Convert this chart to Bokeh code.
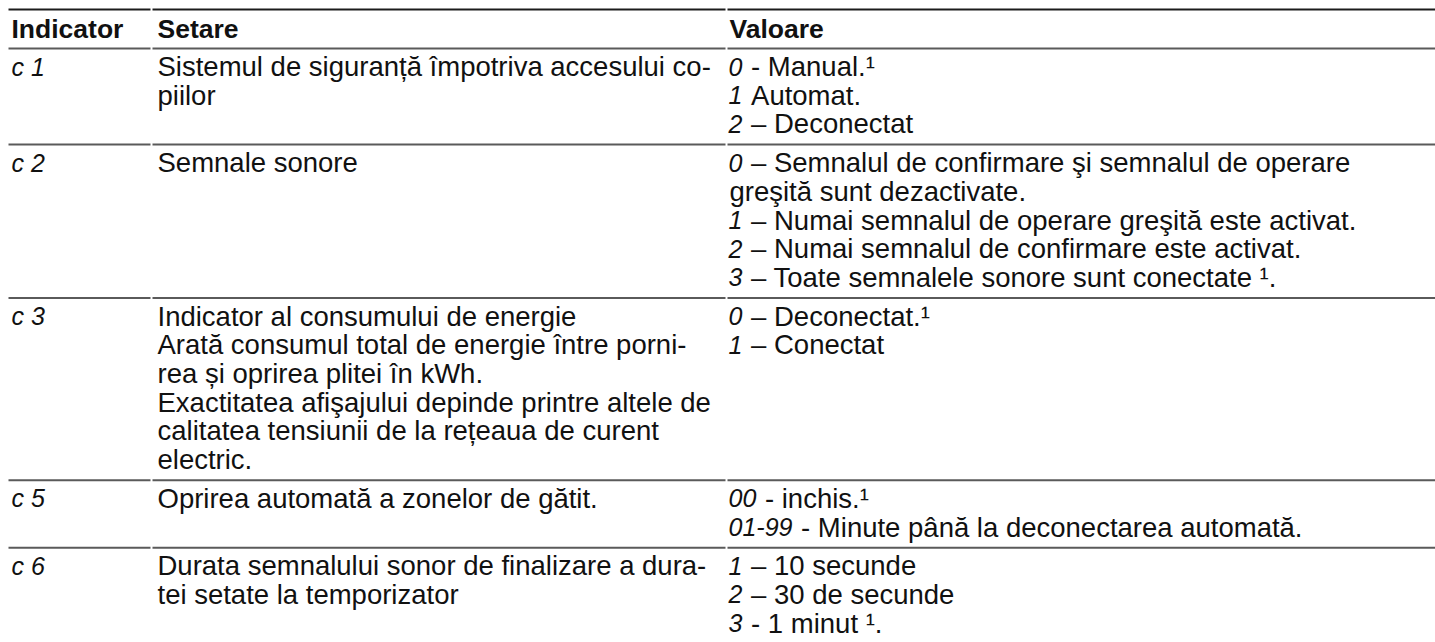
from bokeh.plotting import figure
from bokeh.models import ColumnDataSource, Range1d
from bokeh.core.properties import value
from bokeh.embed import file_html
from bokeh.resources import INLINE

# ---------------- data ----------------
headers = ["Indicator", "Setare", "Valoare"]
indicators = ["c 1", "c 2", "c 3", "c 5", "c 6"]
settings = [
    ["Sistemul de siguranță împotriva accesului co-", "piilor"],
    ["Semnale sonore"],
    ["Indicator al consumului de energie",
     "Arată consumul total de energie între porni-",
     "rea și oprirea plitei în kWh.",
     "Exactitatea afişajului depinde printre altele de",
     "calitatea tensiunii de la rețeaua de curent",
     "electric."],
    ["Oprirea automată a zonelor de gătit."],
    ["Durata semnalului sonor de finalizare a dura-",
     "tei setate la temporizator"],
]
value_codes = [
    ["0", "1", "2"],
    ["0", "", "1", "2", "3"],
    ["0", "1"],
    ["00", "01-99"],
    ["1", "2", "3"],
]
value_texts = [
    ["- Manual.¹", "Automat.", "– Deconectat"],
    ["– Semnalul de confirmare şi semnalul de operare",
     "greşită sunt dezactivate.",
     "– Numai semnalul de operare greşită este activat.",
     "– Numai semnalul de confirmare este activat.",
     "– Toate semnalele sonore sunt conectate ¹."],
    ["– Deconectat.¹", "– Conectat"],
    ["- inchis.¹", "- Minute până la deconectarea automată."],
    ["– 10 secunde", "– 30 de secunde", "- 1 minut ¹."],
]

# ---------------- layout ----------------
W, H = 1435, 642
FONT = "Liberation Sans"
FS = 27.5          # body font px
HFS = 26.5         # header font px
CFS = 25           # code font px
L = 28.7           # line spacing
P = 10             # row padding
B = 18             # baseline offset from row top (as rendered by bokeh)
TOP = 9
COLX = [11, 157, 729]
GAPS = [151, 726]

p = figure(width=W, height=H, x_range=Range1d(0, W), y_range=Range1d(H, 0),
           output_backend="svg", toolbar_location=None, min_border=0)
p.axis.visible = False
p.grid.visible = False
p.outline_line_color = None
p.background_fill_color = "white"
p.border_fill_color = "white"

# row boundaries
row_tops = []
header_bottom = TOP + 29 + 10
y = header_bottom
for i in range(len(indicators)):
    n = max(len(settings[i]), len(value_codes[i]))
    row_tops.append(y)
    y = y + n * L + P
row_bottoms = [row_tops[i + 1] for i in range(len(row_tops) - 1)]

# horizontal rules (split at column gaps)
def rule_segments(yy):
    xs0 = [8, GAPS[0] + 1, GAPS[1] + 1]
    xs1 = [GAPS[0] - 1, GAPS[1] - 1, W]
    return xs0, xs1, [yy] * 3

x0s, x1s, ys = rule_segments(TOP)
p.segment(x0=x0s, y0=ys, x1=x1s, y1=ys, line_color="#1c1c1c", line_width=2)
gx0, gx1, gy = [], [], []
for yy in [header_bottom] + row_bottoms:
    a, b, c = rule_segments(yy)
    gx0 += a; gx1 += b; gy += c
p.segment(x0=gx0, y0=gy, x1=gx1, y1=gy, line_color="#5a5a5a", line_width=2)

# header
p.text(x=COLX, y=[TOP + B + 1] * 3, text=headers, text_font=value(FONT),
       text_font_size=f"{HFS}px", text_font_style="bold", text_color="#111111",
       text_baseline="alphabetic", text_align="left")

# body texts
bx, by, bt = [], [], []
cx, cy, ct = [], [], []
for i, top in enumerate(row_tops):
    cx.append(COLX[0]); cy.append(top + B); ct.append(indicators[i])
    for k, s in enumerate(settings[i]):
        bx.append(COLX[1]); by.append(top + B + k * L); bt.append(s)
    for k, (code, txt) in enumerate(zip(value_codes[i], value_texts[i])):
        yy = top + B + k * L
        if code:
            cx.append(COLX[2] - 1); cy.append(yy); ct.append(code)
            w = sum(0.333 if ch == "-" else 0.556 for ch in code) * CFS
            bx.append(COLX[2] + w + 0.278 * FS)
        else:
            bx.append(COLX[2])
        by.append(yy); bt.append(txt)

p.text(x="x", y="y", text="t", source=ColumnDataSource(dict(x=bx, y=by, t=bt)),
       text_font=value(FONT), text_font_size=f"{FS}px", text_color="#111111",
       text_baseline="alphabetic", text_align="left")
p.text(x="x", y="y", text="t", source=ColumnDataSource(dict(x=cx, y=cy, t=ct)),
       text_font=value(FONT), text_font_size=f"{CFS}px", text_font_style="italic",
       text_color="#111111", text_baseline="alphabetic", text_align="left")

open("out.html", "w").write(file_html(p, INLINE))
